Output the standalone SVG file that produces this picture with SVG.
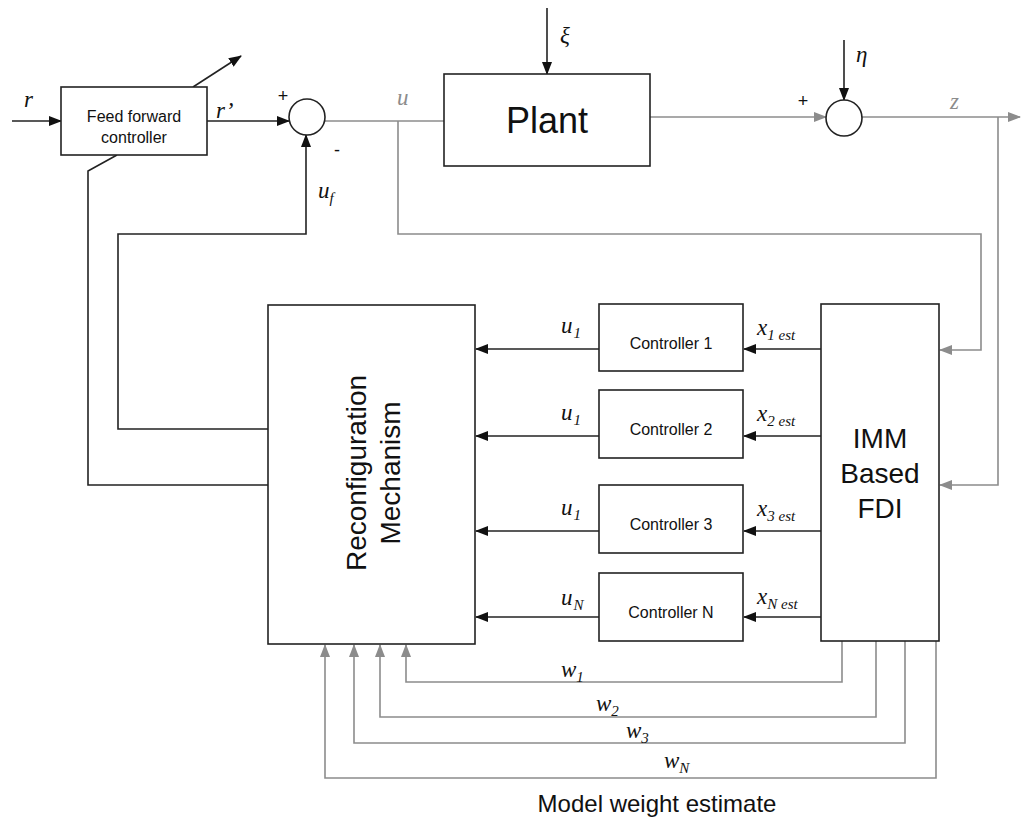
<svg xmlns="http://www.w3.org/2000/svg" width="1021" height="818" viewBox="0 0 1021 818">
<style>
.box{fill:#fff;stroke:#222;stroke-width:1.6}
.blk{fill:none;stroke:#222;stroke-width:1.6}
.gry{fill:none;stroke:#8c8c8c;stroke-width:1.6}
.sans{font-family:"Liberation Sans",Arial,sans-serif;fill:#111}
.m{font-family:"Liberation Serif","Times New Roman",serif;font-style:italic;fill:#111;font-size:23px}
.mg{font-family:"Liberation Serif","Times New Roman",serif;font-style:italic;fill:#8c8c8c;font-size:23px}
.sub{font-size:15px}
.sign{font-family:"Liberation Sans",Arial,sans-serif;fill:#111;font-size:18px}
</style>
<defs>
<marker id="ab" markerUnits="userSpaceOnUse" markerWidth="13" markerHeight="10" refX="12" refY="5" orient="auto"><path d="M0,0 L13,5 L0,10 z" fill="#111"/></marker>
<marker id="ag" markerUnits="userSpaceOnUse" markerWidth="13" markerHeight="10" refX="12" refY="5" orient="auto"><path d="M0,0 L13,5 L0,10 z" fill="#8c8c8c"/></marker>
</defs>

<g id="connectors">
<line class="blk" x1="12" y1="121" x2="61" y2="121" marker-end="url(#ab)"/>
<line class="blk" x1="207" y1="121" x2="289" y2="121" marker-end="url(#ab)"/>
<line class="blk" x1="193" y1="87" x2="241" y2="56" marker-end="url(#ab)"/>
<polyline class="blk" points="117,155 88,171 88,485 268,485"/>
<polyline class="blk" points="268,429 118,429 118,234 306,234 306,135" marker-end="url(#ab)"/>
<line class="gry" x1="325" y1="121" x2="444" y2="121"/>
<polyline class="gry" points="398,121 398,234 981,234 981,350 940,350" marker-end="url(#ag)"/>
<line class="blk" x1="547" y1="8" x2="547" y2="74" marker-end="url(#ab)"/>
<line class="gry" x1="650" y1="117" x2="826" y2="117" marker-end="url(#ag)"/>
<line class="blk" x1="844" y1="40" x2="844" y2="100" marker-end="url(#ab)"/>
<line class="gry" x1="862" y1="117" x2="1020" y2="117" marker-end="url(#ag)"/>
<polyline class="gry" points="998,117 998,485 940,485" marker-end="url(#ag)"/>
<line class="blk" x1="599" y1="349" x2="476" y2="349" marker-end="url(#ab)"/>
<line class="blk" x1="599" y1="436" x2="476" y2="436" marker-end="url(#ab)"/>
<line class="blk" x1="599" y1="531" x2="476" y2="531" marker-end="url(#ab)"/>
<line class="blk" x1="599" y1="617" x2="476" y2="617" marker-end="url(#ab)"/>
<line class="blk" x1="821" y1="349" x2="744" y2="349" marker-end="url(#ab)"/>
<line class="blk" x1="821" y1="436" x2="744" y2="436" marker-end="url(#ab)"/>
<line class="blk" x1="821" y1="531" x2="744" y2="531" marker-end="url(#ab)"/>
<line class="blk" x1="821" y1="617" x2="744" y2="617" marker-end="url(#ab)"/>
<polyline class="gry" points="842,641 842,682 406,682 406,645" marker-end="url(#ag)"/>
<polyline class="gry" points="876,641 876,717 380,717 380,645" marker-end="url(#ag)"/>
<polyline class="gry" points="905,641 905,743 354,743 354,645" marker-end="url(#ag)"/>
<polyline class="gry" points="936,641 936,778 325,778 325,645" marker-end="url(#ag)"/>
</g>

<g id="feedforward">
<rect class="box" x="61" y="87" width="146" height="68"/>
<text class="sans" font-size="16" x="134" y="122" text-anchor="middle">Feed forward</text>
<text class="sans" font-size="16" x="134" y="143" text-anchor="middle">controller</text>
</g>

<g id="sum1">
<circle class="box" cx="307" cy="117" r="18"/>
<text class="sign" x="283" y="102" text-anchor="middle">+</text>
<text class="sign" x="337" y="156" text-anchor="middle">-</text>
</g>

<g id="plant">
<rect class="box" x="444" y="74" width="206" height="92"/>
<text class="sans" font-size="36" x="547" y="133" text-anchor="middle">Plant</text>
</g>

<g id="sum2">
<circle class="box" cx="844" cy="118" r="18"/>
<text class="sign" x="803" y="107" text-anchor="middle">+</text>
</g>

<g id="reconfig">
<rect class="box" x="268" y="305" width="207" height="339"/>
<text class="sans" font-size="28" text-anchor="middle" transform="translate(366,473) rotate(-90)">Reconfiguration</text>
<text class="sans" font-size="28" text-anchor="middle" transform="translate(400,473) rotate(-90)">Mechanism</text>
</g>

<g id="controller1">
<rect class="box" x="599" y="304" width="144" height="67"/>
<text class="sans" font-size="16" x="671" y="349" text-anchor="middle">Controller 1</text>
</g>
<g id="controller2">
<rect class="box" x="599" y="390" width="144" height="68"/>
<text class="sans" font-size="16" x="671" y="435" text-anchor="middle">Controller 2</text>
</g>
<g id="controller3">
<rect class="box" x="599" y="485" width="144" height="68"/>
<text class="sans" font-size="16" x="671" y="530" text-anchor="middle">Controller 3</text>
</g>
<g id="controllerN">
<rect class="box" x="599" y="573" width="144" height="68"/>
<text class="sans" font-size="16" x="671" y="618" text-anchor="middle">Controller N</text>
</g>

<g id="imm">
<rect class="box" x="821" y="304" width="118" height="337"/>
<text class="sans" font-size="28" x="880" y="448" text-anchor="middle">IMM</text>
<text class="sans" font-size="28" x="880" y="483" text-anchor="middle">Based</text>
<text class="sans" font-size="28" x="880" y="518" text-anchor="middle">FDI</text>
</g>

<g id="labels">
<text class="m" x="24" y="107">r</text>
<text class="m" x="216" y="118">r’</text>
<text class="mg" x="397" y="105">u</text>
<text class="m" x="318" y="198">u<tspan class="sub" dy="5">f</tspan></text>
<text class="m" x="560" y="43">ξ</text>
<text class="m" x="856" y="62">η</text>
<text class="mg" x="950" y="109">z</text>
<text class="m" x="561" y="333">u<tspan class="sub" dx="1" dy="5">1</tspan></text>
<text class="m" x="561" y="420">u<tspan class="sub" dx="1" dy="5">1</tspan></text>
<text class="m" x="561" y="515">u<tspan class="sub" dx="1" dy="5">1</tspan></text>
<text class="m" x="561" y="605">u<tspan class="sub" dx="1" dy="5">N</tspan></text>
<text class="m" x="757" y="335">x<tspan class="sub" dy="5">1 est</tspan></text>
<text class="m" x="757" y="421">x<tspan class="sub" dy="5">2 est</tspan></text>
<text class="m" x="757" y="516">x<tspan class="sub" dy="5">3 est</tspan></text>
<text class="m" x="757" y="604">x<tspan class="sub" dy="5">N est</tspan></text>
<text class="m" x="561" y="677">w<tspan class="sub" dy="5">1</tspan></text>
<text class="m" x="596" y="711">w<tspan class="sub" dy="5">2</tspan></text>
<text class="m" x="626" y="738">w<tspan class="sub" dy="5">3</tspan></text>
<text class="m" x="664" y="768">w<tspan class="sub" dy="5">N</tspan></text>
<text class="sans" font-size="24" x="657" y="812" text-anchor="middle">Model weight estimate</text>
</g>
</svg>
